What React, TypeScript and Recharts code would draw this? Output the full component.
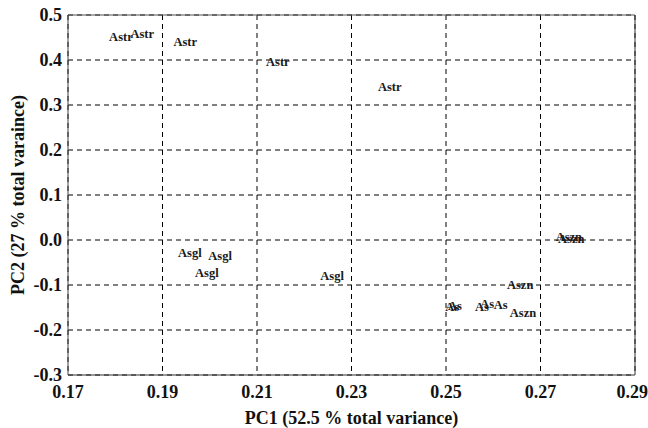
import React from 'react';
import { ScatterChart, Scatter, XAxis, YAxis, CartesianGrid } from 'recharts';

const xTicks = [0.17, 0.19, 0.21, 0.23, 0.25, 0.27, 0.29];
const yTicks = [-0.3, -0.2, -0.1, 0.0, 0.1, 0.2, 0.3, 0.4, 0.5];
const xMinorTicks = [0.17, 0.18, 0.19, 0.2, 0.21, 0.22, 0.23, 0.24, 0.25, 0.26, 0.27, 0.28, 0.29];
const yMinorTicks = [-0.3, -0.275, -0.25, -0.225, -0.2, -0.175, -0.15, -0.125, -0.1, -0.075, -0.05, -0.025, 0, 0.025, 0.05, 0.075, 0.1, 0.125, 0.15, 0.175, 0.2, 0.225, 0.25, 0.275, 0.3, 0.325, 0.35, 0.375, 0.4, 0.425, 0.45, 0.475, 0.5];

const astrX = [0.1812, 0.1857, 0.1948, 0.2144, 0.2381];
const astrY = [0.451, 0.458, 0.44, 0.396, 0.34];
const asglX = [0.1958, 0.2022, 0.1994, 0.2259];
const asglY = [-0.029, -0.036, -0.073, -0.08];
const asX = [0.2513, 0.2519, 0.2576, 0.2587, 0.2616];
const asY = [-0.149, -0.147, -0.149, -0.142, -0.144];
const asznX = [0.2657, 0.2663, 0.276, 0.2765];
const asznY = [-0.1, -0.162, 0.007, 0.002];

const groups = [
  { name: 'Astr', xs: astrX, ys: astrY },
  { name: 'Asgl', xs: asglX, ys: asglY },
  { name: 'As', xs: asX, ys: asY },
  { name: 'Aszn', xs: asznX, ys: asznY },
];

const font = '"Liberation Serif", "Times New Roman", serif';

const LabelShape = (props: any) => {
  const { cx, cy, payload } = props;
  if (cx == null || cy == null) return null;
  return (
    <text
      x={cx}
      y={cy}
      textAnchor="middle"
      dominantBaseline="central"
      fontFamily={font}
      fontWeight="bold"
      fontSize={12.5}
      fill="#1a1a1a"
    >
      {payload.label}
    </text>
  );
};

const tickStyle = { fontFamily: font, fontWeight: 'bold', fontSize: 18, fill: '#111' };

export default function App() {
  return (
    <div style={{ position: 'absolute', left: 0, top: 0, width: 648, height: 428, background: '#fff' }}>
      <ScatterChart width={648} height={428} margin={{ top: 15, right: 13, bottom: 0, left: 0 }}>
        <CartesianGrid
          stroke="#000"
          strokeDasharray="5 4"
          horizontalValues={yTicks}
          verticalValues={xTicks}
        />
        <XAxis
          xAxisId={0}
          type="number"
          dataKey="x"
          domain={[0.17, 0.29]}
          ticks={xTicks}
          allowDataOverflow
          height={53}
          tickLine={false}
          tickSize={0}
          tickMargin={10}
          axisLine={{ stroke: '#333' }}
          tick={tickStyle}
          tickFormatter={(v: number) => v.toFixed(2)}
          label={{
            value: 'PC1 (52.5 % total variance)',
            position: 'center',
            dy: 16,
            style: { fontFamily: font, fontWeight: 'bold', fontSize: 18, fill: '#111' },
          }}
        />
        <XAxis
          xAxisId="top"
          orientation="top"
          mirror
          type="number"
          domain={[0.17, 0.29]}
          ticks={xMinorTicks}
          allowDataOverflow
          tick={false}
          tickSize={4}
          tickLine={{ stroke: '#555' }}
          axisLine={{ stroke: '#555' }}
        />
        <YAxis
          yAxisId={0}
          type="number"
          dataKey="y"
          domain={[-0.3, 0.5]}
          ticks={yTicks}
          allowDataOverflow
          width={68}
          tickLine={false}
          tickSize={0}
          tickMargin={6}
          axisLine={{ stroke: '#444' }}
          tick={tickStyle}
          tickFormatter={(v: number) => v.toFixed(1)}
          label={{
            value: 'PC2 (27 % total varaince)',
            angle: -90,
            position: 'center',
            dx: -16,
            style: { fontFamily: font, fontWeight: 'bold', fontSize: 18, fill: '#111', textAnchor: 'middle' },
          }}
        />
        <YAxis
          yAxisId="leftMinor"
          orientation="left"
          mirror
          type="number"
          domain={[-0.3, 0.5]}
          ticks={yMinorTicks}
          allowDataOverflow
          tick={false}
          tickSize={4}
          tickLine={{ stroke: '#555' }}
          axisLine={false}
        />
        <YAxis
          yAxisId="right"
          orientation="right"
          mirror
          type="number"
          domain={[-0.3, 0.5]}
          ticks={yMinorTicks}
          allowDataOverflow
          tick={false}
          tickSize={4}
          tickLine={{ stroke: '#555' }}
          axisLine={{ stroke: '#333' }}
        />
        {groups.map((g) => (
          <Scatter
            key={g.name}
            name={g.name}
            data={g.xs.map((x, i) => ({ x, y: g.ys[i], label: g.name }))}
            shape={LabelShape}
            isAnimationActive={false}
          />
        ))}
      </ScatterChart>
    </div>
  );
}
